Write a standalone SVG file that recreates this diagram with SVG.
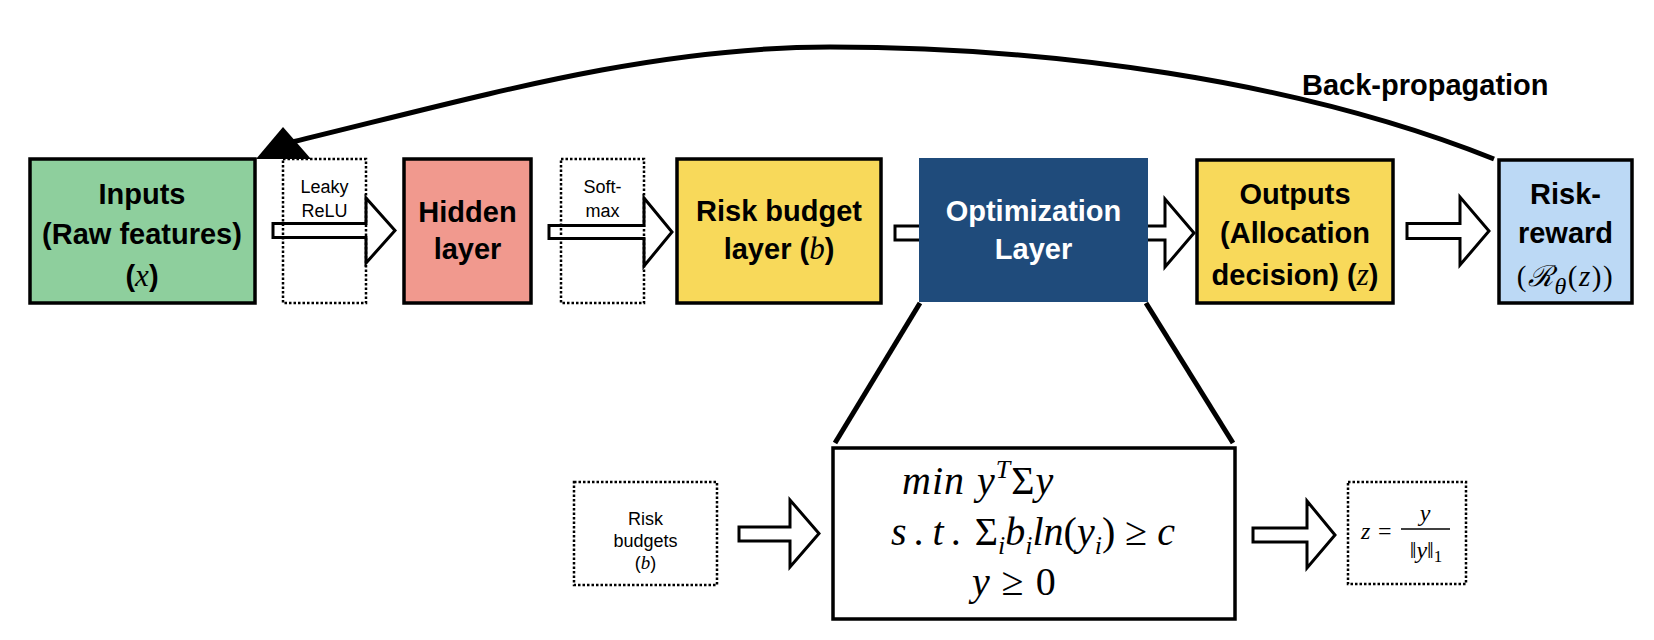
<svg xmlns="http://www.w3.org/2000/svg" width="1654" height="640" viewBox="0 0 1654 640">
<style>
.box{stroke:#000;stroke-width:3.5}
.dot{fill:none;stroke:#000;stroke-width:2.5;stroke-dasharray:2.5 2}
.blk{fill:#fff;stroke:#000;stroke-width:3;stroke-linejoin:miter}
.zl{stroke:#000;stroke-width:5;fill:none}
.lbl{font-family:"Liberation Sans",Arial,sans-serif;font-weight:bold;font-size:29px;text-anchor:middle;fill:#000}
.sm{font-family:"Liberation Sans",Arial,sans-serif;font-size:18px;text-anchor:middle;fill:#000}
.m{font-family:"Liberation Serif","Times New Roman","DejaVu Serif",serif;font-style:italic;font-weight:normal}
.up{font-style:normal}
</style>
<rect width="1654" height="640" fill="#fff"/>
<g id="connectors">
  <path class="zl" d="M292,142 C482,96 650,47 830,47 C1045,47 1294,79 1494,159"/>
  <polygon points="283,127 256,159 311,159" fill="#000"/>
  <polygon class="blk" points="273,223.5 366,223.5 366,198 395,230.5 366,263 366,237.5 273,237.5"/>
  <polygon class="blk" points="549,225.5 644,225.5 644,198 672,232 644,266 644,238.5 549,238.5"/>
  <rect class="blk" x="895" y="226" width="30" height="14"/>
  <polygon class="blk" points="1140,226 1165,226 1165,199 1194,233 1165,267 1165,240 1140,240"/>
  <polygon class="blk" points="1407,223.5 1460,223.5 1460,197 1489,231 1460,265 1460,238.5 1407,238.5"/>
  <polygon class="blk" points="739,527 790,527 790,500 819,533.5 790,567 790,541 739,541"/>
  <polygon class="blk" points="1253,528 1307,528 1307,501 1335,535 1307,568 1307,542 1253,542"/>
  <line class="zl" x1="920" y1="303" x2="835" y2="443"/>
  <line class="zl" x1="1146" y1="303" x2="1233" y2="443"/>
  <text x="1302" y="95" font-family="Liberation Sans, Arial, sans-serif" font-weight="bold" font-size="29">Back-propagation</text>
</g>
<g id="inputs">
  <rect class="box" x="30" y="159" width="225" height="144" fill="#8ecf9d"/>
  <text class="lbl" x="142" y="204">Inputs</text>
  <text class="lbl" x="142" y="244">(Raw features)</text>
  <text class="lbl" x="142" y="286">(<tspan class="m" font-size="31">x</tspan>)</text>
</g>
<g id="leaky-relu">
  <rect class="dot" x="283" y="159" width="83" height="144"/>
  <text class="sm" x="324.5" y="193">Leaky</text>
  <text class="sm" x="324.5" y="217">ReLU</text>
</g>
<g id="hidden">
  <rect class="box" x="404" y="159" width="127" height="144" fill="#f1998e"/>
  <text class="lbl" x="467.5" y="222">Hidden</text>
  <text class="lbl" x="467.5" y="259">layer</text>
</g>
<g id="softmax">
  <rect class="dot" x="561" y="159" width="83" height="144"/>
  <text class="sm" x="602.5" y="193">Soft-</text>
  <text class="sm" x="602.5" y="217">max</text>
</g>
<g id="risk-budget-layer">
  <rect class="box" x="677" y="159" width="204" height="144" fill="#f8d95a"/>
  <text class="lbl" x="779" y="221">Risk budget</text>
  <text class="lbl" x="779" y="259">layer (<tspan class="m" font-size="31">b</tspan>)</text>
</g>
<g id="optimization-layer">
  <rect x="919" y="158" width="229" height="144" fill="#1f4b7b"/>
  <text class="lbl" x="1033.5" y="221" style="fill:#fff">Optimization</text>
  <text class="lbl" x="1033.5" y="259" style="fill:#fff">Layer</text>
</g>
<g id="outputs">
  <rect class="box" x="1197" y="160" width="196" height="143" fill="#f8d95a"/>
  <text class="lbl" x="1295" y="204">Outputs</text>
  <text class="lbl" x="1295" y="243">(Allocation</text>
  <text class="lbl" x="1295" y="285">decision) (<tspan class="m" font-size="31">z</tspan>)</text>
</g>
<g id="risk-reward">
  <rect class="box" x="1499" y="160" width="133" height="143" fill="#bcd9f5"/>
  <text class="lbl" x="1565.5" y="204">Risk-</text>
  <text class="lbl" x="1565.5" y="243">reward</text>
  <text class="lbl m" x="1565.5" y="286" font-size="36" letter-spacing="1.5"><tspan class="up">(</tspan>ℛ<tspan font-size="24" dy="8">θ</tspan><tspan class="up" dy="-8">(</tspan>z<tspan class="up">))</tspan></text>
</g>
<g id="risk-budgets">
  <rect class="dot" x="574" y="482" width="143" height="103"/>
  <text class="sm" x="645.5" y="525">Risk</text>
  <text class="sm" x="645.5" y="547">budgets</text>
  <text class="sm" x="645.5" y="569">(<tspan class="m" font-size="19">b</tspan>)</text>
</g>
<g id="optimization-problem">
  <rect class="box" x="833" y="448" width="402" height="171" fill="#fff"/>
  <text class="m" x="902" y="494" font-size="40" letter-spacing="1"><tspan>min</tspan><tspan dx="12">y</tspan><tspan font-size="26" dy="-16">T</tspan><tspan class="up" dy="16">Σ</tspan>y</text>
  <text class="m" x="891" y="545" font-size="40">s<tspan dx="8">.</tspan><tspan dx="8">t</tspan><tspan dx="8">.</tspan><tspan class="up" dx="13">Σ</tspan><tspan font-size="26" dy="9">i</tspan><tspan dy="-9">b</tspan><tspan font-size="26" dy="9">i</tspan><tspan dy="-9">ln</tspan><tspan class="up">(</tspan>y<tspan font-size="26" dy="9">i</tspan><tspan class="up" dy="-9">) ≥ </tspan>c</text>
  <text class="m" x="972" y="595" font-size="40">y<tspan class="up" dx="12">≥</tspan><tspan class="up" dx="12">0</tspan></text>
</g>
<g id="normalization">
  <rect class="dot" x="1348" y="482" width="118" height="102"/>
  <text class="m" x="1361" y="539" font-size="24">z</text>
  <text class="m up" x="1378" y="539" font-size="24">=</text>
  <line x1="1401" y1="529" x2="1450" y2="529" stroke="#000" stroke-width="1.3"/>
  <text class="m" x="1425" y="521" font-size="24" text-anchor="middle">y</text>
  <text class="m" x="1426" y="558" font-size="24" text-anchor="middle"><tspan class="up">‖</tspan>y<tspan class="up">‖</tspan><tspan class="up" font-size="17" dy="4">1</tspan></text>
</g>
</svg>
